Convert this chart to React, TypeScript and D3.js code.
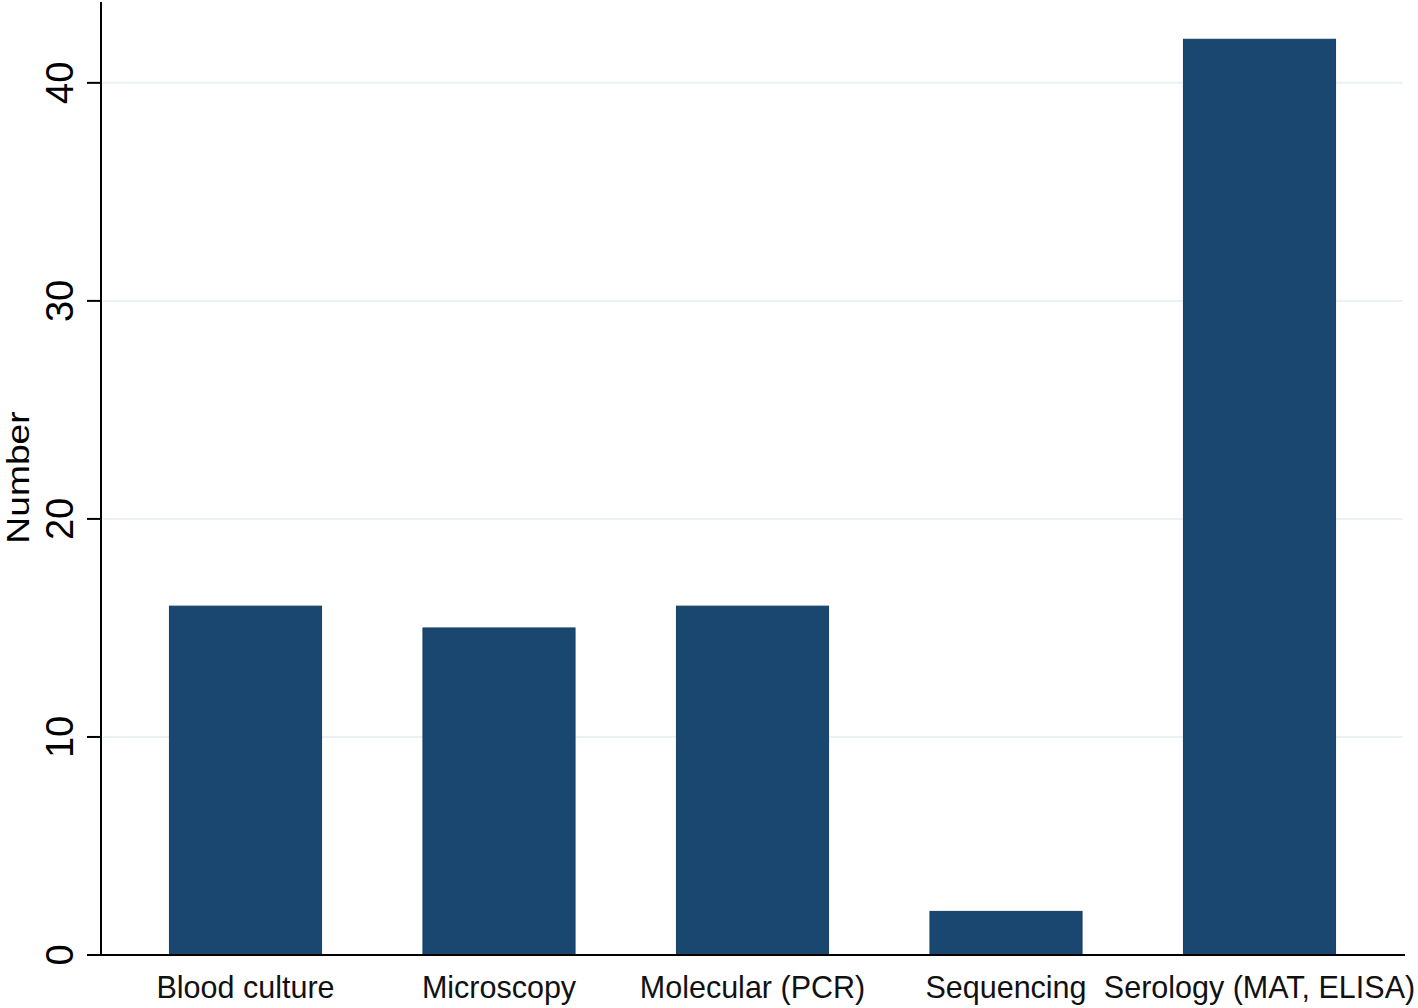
import React from 'react'
import * as d3 from 'd3'

const categories = ['Blood culture', 'Microscopy', 'Molecular (PCR)', 'Sequencing', 'Serology (MAT, ELISA)']
const counts = [16, 15, 16, 2, 42]
const yTicks = [0, 10, 20, 30, 40]

const width = 1418
const height = 1008
const font = '"Liberation Sans", Arial, sans-serif'

export default function App() {
  const x = d3
    .scaleBand<string>()
    .domain(categories)
    .range([101, 1404])
    .paddingInner(0.4)
    .paddingOuter(0.27)

  const y = d3.scaleLinear().domain([0, 43.8]).range([955, 0])

  return (
    <svg
      width={width}
      height={height}
      style={{ position: 'absolute', left: 0, top: 0, background: '#fff' }}
    >
      {/* gridlines */}
      {yTicks.slice(1).map(t => (
        <line key={'g' + t} x1={103} x2={1403} y1={y(t)} y2={y(t)} stroke="#eaf2f3" strokeWidth={2} />
      ))}

      {/* bars */}
      {categories.map((c, i) => (
        <rect
          key={c}
          x={x(c)}
          y={y(counts[i])}
          width={x.bandwidth()}
          height={y(0) - y(counts[i])}
          fill="#1a476f"
          stroke="#173f63"
          strokeWidth={1}
        />
      ))}

      {/* y axis */}
      <line x1={101} x2={101} y1={y(43.8) + 2} y2={y(0)} stroke="#000" strokeWidth={2} />
      {yTicks.map(t => (
        <g key={'t' + t} transform={`translate(0,${y(t)})`}>
          <line x1={87} x2={101} stroke="#000" strokeWidth={2} />
          <text
            transform="translate(73,0) rotate(-90)"
            textAnchor="middle"
            fontFamily={font}
            fontSize={38}
            fill="#000"
          >
            {t}
          </text>
        </g>
      ))}
      <text
        transform={`translate(29,${(y(0) + y(43.8)) / 2}) rotate(-90) scale(1.2,1)`}
        textAnchor="middle"
        fontFamily={font}
        fontSize={31}
        fill="#000"
      >
        Number
      </text>

      {/* x axis */}
      <line x1={87} x2={1405} y1={y(0)} y2={y(0)} stroke="#000" strokeWidth={2} />
      {categories.map(c => (
        <text
          key={'l' + c}
          x={(x(c) ?? 0) + x.bandwidth() / 2}
          y={998}
          textAnchor="middle"
          fontFamily={font}
          fontSize={30.5}
          fill="#111"
        >
          {c}
        </text>
      ))}
    </svg>
  )
}
